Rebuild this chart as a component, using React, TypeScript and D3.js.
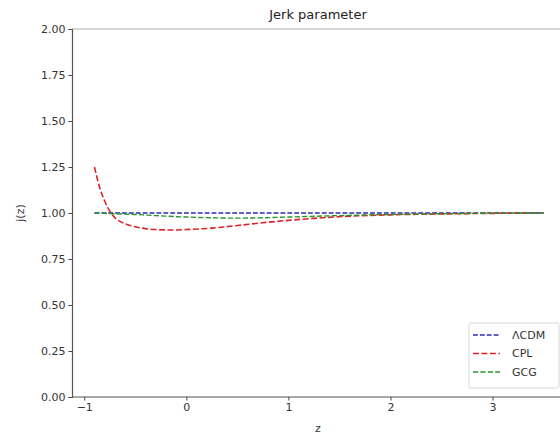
import React, { useEffect, useRef } from "react";
import * as d3 from "d3";

// redshift samples
const zValues = [-0.9, -0.85, -0.8, -0.75, -0.7, -0.6, -0.5, -0.4, -0.3, -0.2, -0.1, 0, 0.25, 0.5, 0.75, 1.0, 1.25, 1.5, 2.0, 2.5, 3.0, 3.5];
const lcdmValues = [1, 1, 1, 1, 1, 1, 1, 1, 1, 1, 1, 1, 1, 1, 1, 1, 1, 1, 1, 1, 1, 1];
const cplValues = [1.25, 1.14, 1.065, 1.01, 0.975, 0.942, 0.925, 0.915, 0.91, 0.908, 0.908, 0.91, 0.918, 0.932, 0.947, 0.96, 0.971, 0.98, 0.99, 0.995, 0.998, 1.0];
const gcgValues = [1.0, 0.999, 0.998, 0.997, 0.996, 0.994, 0.992, 0.989, 0.986, 0.983, 0.98, 0.978, 0.974, 0.972, 0.974, 0.978, 0.982, 0.986, 0.992, 0.996, 0.999, 1.0];

const xTicks = [-1, 0, 1, 2, 3];
const yTicks = [0, 0.25, 0.5, 0.75, 1.0, 1.25, 1.5, 1.75, 2.0];

const series = [
  { name: "ΛCDM", values: lcdmValues, color: "#2a2ab8", width: 1.3 },
  { name: "CPL", values: cplValues, color: "#e02226", width: 1.6 },
  { name: "GCG", values: gcgValues, color: "#2a962a", width: 1.4 },
];

const App = () => {
  const ref = useRef<SVGSVGElement>(null);

  useEffect(() => {
    const width = 560;
    const height = 438;
    const margin = { top: 29, left: 72, bottom: 41, right: -6 };
    const font = "DejaVu Sans, sans-serif";

    const svg = d3.select(ref.current).attr("width", width).attr("height", height);
    svg.selectAll("*").remove();

    const x = d3.scaleLinear().domain([-1.12, 3.72]).range([margin.left, width - margin.right]);
    const y = d3.scaleLinear().domain([0, 2]).range([height - margin.bottom, margin.top]);

    // frame
    svg.append("line")
      .attr("x1", margin.left).attr("x2", width)
      .attr("y1", margin.top).attr("y2", margin.top)
      .attr("stroke", "#b0b0b0").attr("stroke-width", 1.2);

    // lines
    series.forEach((s) => {
      const line = d3.line<number>()
        .x((d, i) => x(zValues[i]))
        .y((d) => y(d))
        .curve(d3.curveMonotoneX);
      svg.append("path")
        .datum(s.values)
        .attr("fill", "none")
        .attr("stroke", s.color)
        .attr("stroke-width", s.width)
        .attr("stroke-dasharray", `${3.7 * s.width},${1.6 * s.width}`)
        .attr("d", line);
    });

    // axes
    const xAxis = svg.append("g")
      .attr("transform", `translate(0, ${height - margin.bottom})`)
      .call(d3.axisBottom(x).tickValues(xTicks).tickSize(3.5).tickPadding(3).tickFormat((d) => String(d).replace("-", "−")));
    const yAxis = svg.append("g")
      .attr("transform", `translate(${margin.left}, 0)`)
      .call(d3.axisLeft(y).tickValues(yTicks).tickSize(3.5).tickPadding(3).tickFormat(d3.format(".2f")));

    [xAxis, yAxis].forEach((g) => {
      g.attr("font-family", font).attr("font-size", 11);
      g.selectAll("text").attr("fill", "#333");
      g.selectAll("line").attr("stroke", "#444");
      g.select(".domain").attr("stroke", "#555").attr("stroke-width", 1.2);
    });
    xAxis.select(".domain").attr("d", `M${margin.left},0H${width}`);

    // labels
    svg.append("text")
      .attr("x", 318).attr("y", 19)
      .attr("text-anchor", "middle")
      .attr("font-family", font).attr("font-size", 13).attr("fill", "#222")
      .text("Jerk parameter");
    svg.append("text")
      .attr("x", 318).attr("y", 432)
      .attr("text-anchor", "middle")
      .attr("font-family", font).attr("font-size", 11).attr("fill", "#333")
      .text("z");
    svg.append("text")
      .attr("transform", `translate(24, ${y(1)}) rotate(-90)`)
      .attr("text-anchor", "middle")
      .attr("font-family", font).attr("font-size", 11).attr("fill", "#333")
      .text("j(z)");

    // legend
    const legend = svg.append("g").attr("transform", "translate(469, 323)");
    legend.append("rect")
      .attr("width", 90).attr("height", 65).attr("rx", 2)
      .attr("fill", "white").attr("stroke", "#d8d8d8");
    const items = legend.selectAll("g.item")
      .data(series)
      .enter().append("g")
      .attr("class", "item")
      .attr("transform", (d, i) => `translate(0, ${12 + i * 18.5})`);
    items.append("line")
      .attr("x1", 4).attr("x2", 31)
      .attr("stroke", (d) => d.color)
      .attr("stroke-width", (d) => d.width)
      .attr("stroke-dasharray", (d) => `${3.7 * d.width},${1.6 * d.width}`);
    items.append("text")
      .attr("x", 43).attr("dy", "0.35em")
      .attr("font-family", font).attr("font-size", 11).attr("fill", "#333")
      .text((d) => d.name);
  }, []);

  return <svg ref={ref} style={{ position: "absolute", left: 0, top: 0 }}></svg>;
};

export default App;
